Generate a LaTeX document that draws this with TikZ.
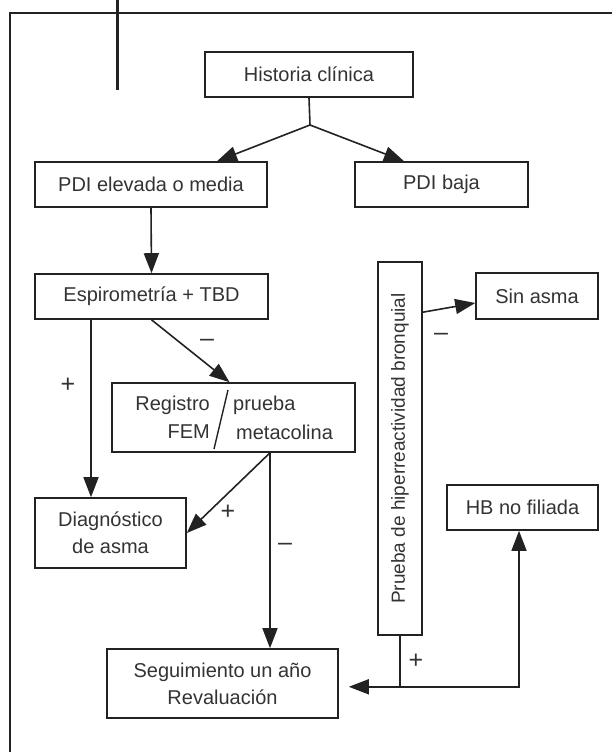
\documentclass[tikz,border=0pt]{standalone}
\usepackage{fontspec}
\setmainfont{Liberation Sans}
\usetikzlibrary{arrows.meta,calc}
\definecolor{ink}{HTML}{222222}
\definecolor{txt}{HTML}{333333}
\begin{document}
\begin{tikzpicture}[x=1pt,y=-1pt,
  box/.style={draw=ink,line width=1.6pt,inner sep=0pt,text=txt,
    font=\fontsize{20}{27}\selectfont,align=center},
  lbl/.style={text=txt,font=\fontsize{20}{25}\selectfont,inner sep=0pt},
  sgn/.style={text=txt,font=\fontsize{25}{25}\selectfont,inner sep=0pt},
  ln/.style={draw=ink,line width=1.6pt},
  arr/.style={ln,-{Triangle[length=20pt,width=15pt]}}]
\useasboundingbox (0,0) rectangle (612,752);
% frame
\draw[ink,line width=1.6pt] (10,752) -- (10,13) -- (612,13);
\draw[ink,line width=3pt] (117,0) -- (117,90);
% boxes
\node[box,minimum width=208pt,minimum height=45pt] (hist) at (309,74.5) {Historia clínica};
\node[box,minimum width=232pt,minimum height=45pt] (pdie) at (151,184.5) {PDI elevada o media};
\node[box,minimum width=173pt,minimum height=45pt] (pdib) at (441.5,184.5) {PDI baja};
\node[box,minimum width=233pt,minimum height=45pt] (espi) at (151.5,296.5) {Espirometría + TBD};
\node[box,minimum width=44pt,minimum height=373pt] (prueba) at (400,448.5) {};
\node[lbl,rotate=90,font=\fontsize{19}{24}\selectfont] (pruebat) at (prueba.center) {Prueba de hiperreactividad bronquial};
\node[box,minimum width=122pt,minimum height=46pt] (sin) at (537,296) {Sin asma};
\node[box,minimum width=243pt,minimum height=69pt] (reg) at (233.5,417.5) {};
\node[lbl,anchor=east] (reg1) at (210,405) {Registro};
\node[lbl,anchor=east] (reg2) at (210,432) {FEM};
\node[lbl,anchor=west] (reg3) at (233,405) {prueba};
\node[lbl,anchor=west] (reg4) at (236,432) {metacolina};
\coordinate (slt) at (228,390);
\coordinate (slb) at (214,449);
\draw[ink,line width=1.4pt] (slt) -- (slb);
\node[box,minimum width=151pt,minimum height=70pt] (diag) at (110.5,533) {Diagnóstico\\de asma};
\node[box,minimum width=231pt,minimum height=69pt] (seg) at (222.5,683.5) {Seguimiento un año\\Revaluación};
\node[box,minimum width=151pt,minimum height=45pt] (hb) at (522.5,507.5) {HB no filiada};
% connectors
\coordinate (j) at (310,125);
\draw[ln] (hist.south) -- (j);
\draw[arr] (j) -- ([xshift=66pt]pdie.north);
\draw[arr] (j) -- ([xshift=-37.5pt]pdib.north);
\draw[arr] (pdie.south) -- (espi.north);
\draw[arr] (espi.south) -- ([xshift=-4pt]reg.north);
\coordinate (eb) at ([xshift=-60.5pt]espi.south);
\draw[arr] (eb) -- (eb |- diag.north);
\coordinate (rb) at ([xshift=36.5pt]reg.south);
\draw[arr] (rb) -- (diag.east);
\draw[arr] (rb) -- (rb |- seg.north);
\draw[arr] ([yshift=-51pt]prueba.north east) -- ([yshift=-7pt]sin.west);
\coordinate (k) at ($(prueba.south)+(0,51)$);
\draw[ln] (prueba.south) -- (k);
\draw[arr,shorten >=10pt] (k) -- (k -| seg.east);
\draw[arr] (k) -| ([xshift=-3.5pt]hb.south);
% labels
\node[sgn] (m1) at (441,337) {–};
\node[sgn] (m2) at (207,343) {–};
\node[sgn] (p1) at (68,385) {+};
\node[sgn] (p2) at (228,512) {+};
\node[sgn] (m3) at (285,547) {–};
\node[sgn] (p3) at (416,661) {+};
\end{tikzpicture}
\end{document}
